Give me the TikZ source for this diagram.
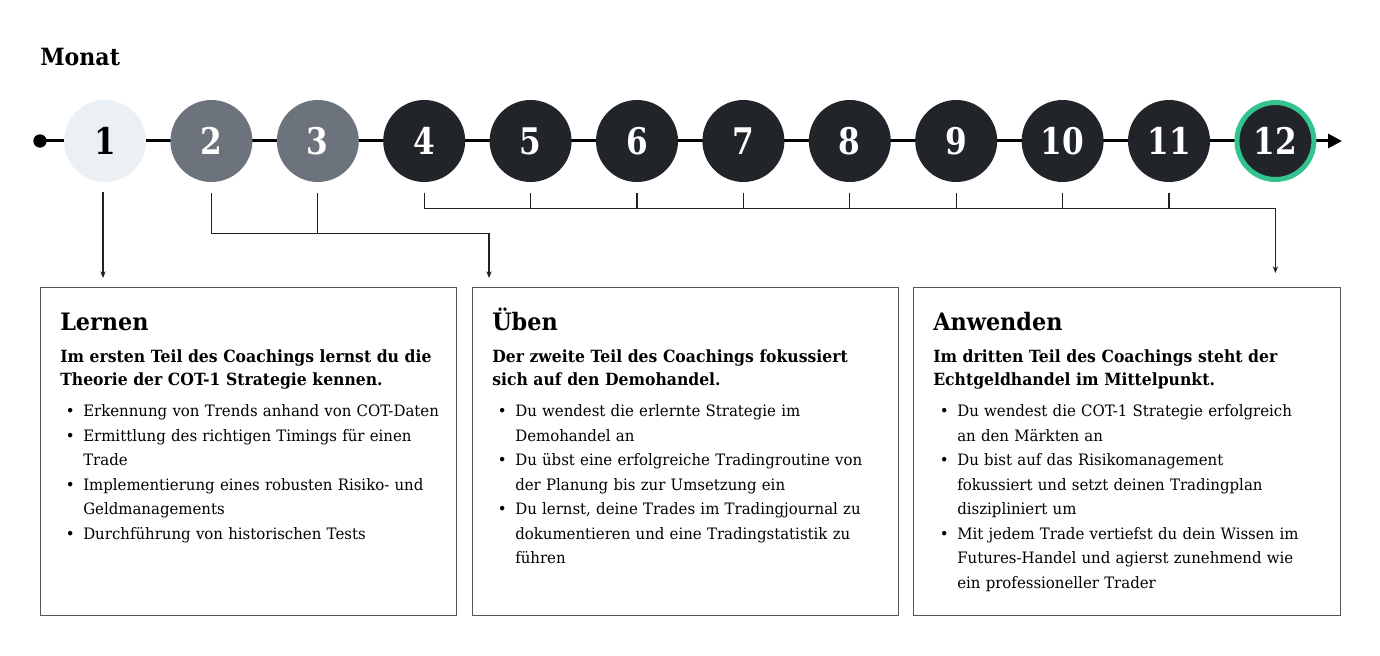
\documentclass[tikz,border=0pt]{standalone}
\usepackage{fontspec}
\setmainfont{DejaVu Serif}[UprightFeatures={FakeStretch=0.95},BoldFeatures={FakeStretch=0.93}]
\newfontfamily\numfont{DejaVu Serif}[BoldFeatures={FakeStretch=0.85}]
\usetikzlibrary{arrows.meta,calc}
\definecolor{lightfill}{HTML}{EBF0F5}
\definecolor{midfill}{HTML}{6C737C}
\definecolor{darkfill}{HTML}{212428}
\definecolor{ringgreen}{HTML}{33C48D}
\definecolor{boxline}{HTML}{555555}
\definecolor{connline}{HTML}{222222}
\newcommand\bul{\leavevmode\llap{\textbullet\hspace{6.5pt}}}
\tikzset{
  num/.style={circle, minimum size=61.5pt, inner sep=0pt, font=\numfont\fontsize{27.5}{30}\selectfont\bfseries},
  numlight/.style={num, fill=lightfill, text=black},
  nummid/.style={num, fill=midfill, text=white},
  numdark/.style={num, fill=darkfill, text=white},
  numlast/.style={num, fill=darkfill, text=white, draw=ringgreen, line width=3.75pt, minimum size=57.75pt},
  conn/.style={draw=connline, line width=0.8pt},
  connarrow/.style={conn, -{Stealth[length=5pt,width=4pt]}},
  phasebox/.style={draw=boxline, line width=1pt, minimum width=312pt, minimum height=246pt, inner sep=0pt, anchor=north west},
  ptitle/.style={anchor=base west, inner sep=0pt, font=\fontsize{18}{22}\selectfont\bfseries},
  psub/.style={anchor=base west, inner sep=0pt, text width=300pt, align=left, font=\fontsize{12.6}{17.25}\selectfont\bfseries},
  plist/.style={anchor=base west, inner sep=0pt, text width=290pt, align=left, font=\fontsize{11.8}{18.4}\selectfont},
}
\begin{document}
\begin{tikzpicture}[x=0.75pt,y=-0.75pt]
\useasboundingbox (0,0) rectangle (1380,656);
% heading
\node[anchor=base west, inner sep=0pt, font=\fontsize{17.8}{22}\selectfont\bfseries] (monat) at (40,66) {Monat};
% timeline
\coordinate (tstart) at (40,141);
\coordinate (tend) at (1342,141);
\draw[line width=2.25pt, -{Triangle[length=10.5pt,width=10.5pt]}] (tstart) -- (tend);
\fill (tstart) circle (5pt);
% month circles
\node[numlight] (c1) at (105,141) {1};
\node[nummid] (c2) at (211.4,141) {2};
\node[nummid] (c3) at (317.8,141) {3};
\foreach \i in {4,...,11}{
  \node[numdark] (c\i) at ({105+(\i-1)*106.4},141) {\i};
}
\node[numlast] (c12) at (1275.4,141) {12};
% boxes
\node[phasebox] (b1) at (40,287) {};
\node[phasebox, minimum width=319.5pt] (b2) at (472,287) {};
\node[phasebox, minimum width=320.25pt] (b3) at (913,287) {};
% connectors
\coordinate (a1) at ($(c1.center |- b1.north)+(-2,-9)$);
\draw[connarrow] ($(c1.south)+(-2,10)$) -- (a1);
\coordinate (a2) at ($(b2.north west)+(17,-9)$);
\draw[connarrow] ($(c2.south)+(0,11)$) -- ++(0,40) -| (a2);
\draw[conn] ($(c3.south)+(0,11)$) -- ($(c3.south)+(0,51)$);
\coordinate (a3) at ($(c12.center |- b3.north)+(0,-14)$);
\draw[connarrow] ($(c4.south)+(0,11)$) -- ++(0,15) -| (a3);
\foreach \i in {5,...,11}{
  \draw[conn] ($(c\i.south)+(0,11)$) -- ($(c\i.south)+(0,26)$);
}
% box 1 text
\node[ptitle] (t1) at (60,330) {Lernen};
\node[psub] (s1) at (60,362) {Im ersten Teil des Coachings lernst du die\\Theorie der COT-1 Strategie kennen.};
\node[plist] (l1) at (83,416.7) {\bul Erkennung von Trends anhand von COT-Daten\par
\bul Ermittlung des richtigen Timings für einen\\Trade\par
\bul Implementierung eines robusten Risiko- und\\Geldmanagements\par
\bul Durchführung von historischen Tests};
% box 2 text
\node[ptitle] (t2) at (492,330) {Üben};
\node[psub] (s2) at (492,362) {Der zweite Teil des Coachings fokussiert\\sich auf den Demohandel.};
\node[plist] (l2) at (515,416.7) {\bul Du wendest die erlernte Strategie im\\Demohandel an\par
\bul Du übst eine erfolgreiche Tradingroutine von\\der Planung bis zur Umsetzung ein\par
\bul Du lernst, deine Trades im Tradingjournal zu\\dokumentieren und eine Tradingstatistik zu\\führen};
% box 3 text
\node[ptitle] (t3) at (933,330) {Anwenden};
\node[psub] (s3) at (933,362) {Im dritten Teil des Coachings steht der\\Echtgeldhandel im Mittelpunkt.};
\node[plist] (l3) at (957,416.7) {\bul Du wendest die COT-1 Strategie erfolgreich\\an den Märkten an\par
\bul Du bist auf das Risikomanagement\\fokussiert und setzt deinen Tradingplan\\diszipliniert um\par
\bul Mit jedem Trade vertiefst du dein Wissen im\\Futures-Handel und agierst zunehmend wie\\ein professioneller Trader};
\end{tikzpicture}
\end{document}
